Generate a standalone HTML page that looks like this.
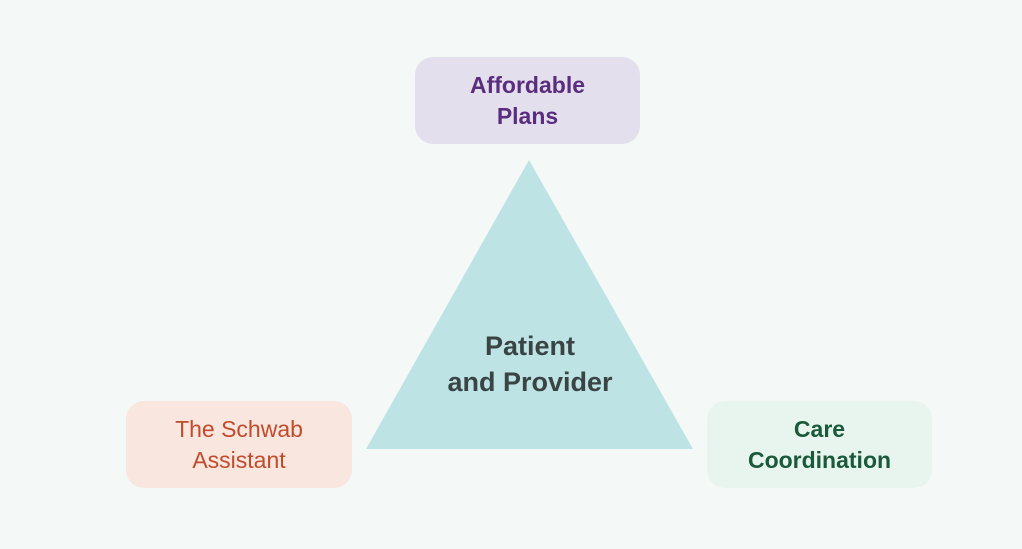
<!DOCTYPE html>
<html><head><style>
body{margin:0;width:1022px;height:549px;background:#f4f9f8;position:relative;overflow:hidden;font-family:"Liberation Sans",sans-serif;font-weight:bold}
.b{position:absolute;border-radius:18px;display:flex;align-items:center;justify-content:center;text-align:center;font-size:23px;line-height:31px}
</style></head><body>
<svg width="1022" height="549" style="position:absolute;left:0;top:0"><polygon points="529,160 366,449 693,449" fill="#bde3e4"/></svg>
<div class="b" style="left:415px;top:57px;width:225px;height:87px;background:#e4dfec;color:#5a2d7e">Affordable<br>Plans</div>
<div class="b" style="left:126px;top:401px;width:226px;height:87px;background:#f9e6df;color:#c14b2b;font-weight:normal;transform-origin:center">The Schwab<br>Assistant</div>
<div class="b" style="left:707px;top:401px;width:225px;height:87px;background:#e8f5ef;color:#1a5a3a">Care<br>Coordination</div>
<div style="position:absolute;left:400px;top:328px;width:260px;text-align:center;font-size:27px;line-height:36px;color:#3a4444">Patient<br>and Provider</div>
</body></html>
